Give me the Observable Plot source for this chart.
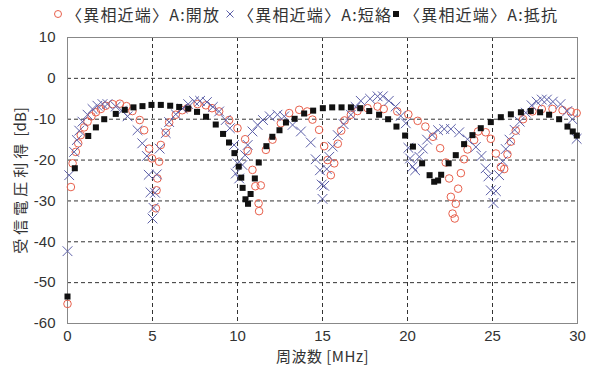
<!DOCTYPE html>
<html><head><meta charset="utf-8">
<script src="https://cdn.jsdelivr.net/npm/d3@7"></script>
<script src="https://cdn.jsdelivr.net/npm/@observablehq/plot@0.6"></script>
<style>
body{margin:0;background:#fff;font-family:"Noto Sans CJK JP",sans-serif;}
#legend{height:20px;position:relative;z-index:1;font-size:16px;color:#333;width:595px;}
.item{position:absolute;top:4px;display:flex;align-items:center;white-space:nowrap;line-height:20px;letter-spacing:1.2px;}
.item svg{margin-right:2px;}
#chart svg{background:transparent !important;}
</style></head><body>
<div id="legend"></div>
<div id="chart"></div>
<script>
// Series labels
const seriesNames = ["〈異相近端〉A:開放", "〈異相近端〉A:短絡", "〈異相近端〉A:抵抗"];
const xTicks = [0, 5, 10, 15, 20, 25, 30];
const yTicks = [10, 0, -10, -20, -30, -40, -50, -60];
const xLabel = "周波数 [MHz]";
const yLabelMain = "受信電圧利得";
const yLabelUnit = " [dB]";

// [frequency MHz, gain dB]
const openPts = [[0,-55.2],[0.2,-26.6],[0.3,-20.8],[0.49,-18.0],[0.63,-15.9],[0.78,-13.9],[0.98,-12.0],[1.18,-10.6],[1.41,-9.3],[1.67,-8.3],
[1.96,-7.5],[2.25,-6.7],[2.65,-6.3],[3.08,-6.2],[3.47,-6.8],[3.82,-8.0],[4.25,-10.2],[4.51,-12.7],[4.8,-17.2],[4.97,-19.6],
[5.2,-31.8],[5.24,-27.4],[5.29,-24.5],[5.39,-20.4],[5.49,-16.3],[5.78,-13.3],[5.98,-10.8],[6.37,-8.9],[6.75,-7.8],[7.06,-7.3],
[7.65,-6.3],[8.14,-6.6],[8.5,-7.3],[8.92,-8.1],[9.51,-10.2],[10.0,-12.2],[10.45,-14.9],[10.6,-17.8],[10.88,-22.4],[11.05,-26.4],
[11.24,-30.6],[11.27,-32.5],[11.37,-26.2],[11.67,-17.5],[12.06,-15.0],[12.55,-11.0],[13.04,-8.5],[13.63,-7.7],[14.1,-8.1],[14.41,-10.1],
[14.8,-12.6],[15.1,-16.6],[15.3,-20.0],[15.49,-23.7],[15.69,-20.8],[15.9,-16.0],[16.1,-12.8],[16.3,-10.3],[16.67,-8.9],[17.06,-8.0],
[17.65,-7.3],[18.24,-6.9],[18.6,-7.5],[19.4,-8.1],[20.05,-8.8],[20.6,-10.4],[21.05,-11.8],[21.5,-14.3],[21.92,-17.1],[22.25,-20.6],
[22.45,-24.5],[22.55,-29.0],[22.65,-33.1],[22.78,-34.3],[22.84,-30.7],[22.98,-27.0],[23.14,-23.2],[23.33,-19.8],[23.53,-17.4],[23.92,-15.1],
[24.15,-13.0],[24.6,-13.2],[24.9,-14.8],[25.2,-18.4],[25.49,-21.7],[25.69,-22.2],[25.88,-18.6],[26.08,-15.5],[26.37,-12.8],[26.8,-10.0],
[27.35,-8.1],[27.9,-7.5],[28.53,-7.5],[29.12,-7.8],[29.6,-8.1],[29.95,-8.5]];

const shortPts = [[0,-42.3],[0.1,-23.7],[0.39,-18.0],[0.55,-15.1],[0.69,-12.8],[0.88,-10.6],[1.18,-8.9],[1.47,-7.5],[1.76,-6.7],[2.06,-6.3],
[2.35,-6.3],[2.84,-6.9],[3.2,-7.9],[3.53,-9.3],[4.12,-12.7],[4.4,-15.9],[4.67,-19.0],[4.78,-23.6],[4.88,-27.9],[5.0,-34.3],
[5.06,-31.7],[5.15,-28.0],[5.25,-23.5],[5.42,-17.2],[5.78,-13.4],[5.98,-10.7],[6.37,-8.8],[6.76,-7.4],[7.1,-6.3],[7.45,-5.6],
[7.8,-5.5],[8.2,-5.8],[8.55,-7.0],[8.92,-8.1],[9.31,-10.2],[9.55,-12.2],[9.8,-16.3],[9.9,-23.3],[10.0,-20.8],[10.1,-24.5],
[10.29,-21.2],[10.45,-18.8],[10.6,-16.3],[10.88,-13.0],[11.18,-11.4],[11.5,-10.2],[11.9,-9.3],[12.35,-8.9],[12.75,-9.3],[13.24,-11.4],
[13.73,-13.0],[14.31,-15.7],[14.6,-19.8],[14.85,-22.5],[14.95,-26.0],[15.0,-29.5],[15.1,-26.3],[15.25,-22.2],[15.4,-19.2],[15.6,-16.7],
[15.9,-13.9],[16.24,-11.2],[16.67,-8.9],[16.95,-7.0],[17.25,-5.5],[17.8,-5.0],[18.24,-4.4],[18.55,-4.4],[18.9,-5.5],[19.3,-6.9],
[19.6,-9.2],[19.9,-11.0],[20.05,-17.0],[20.15,-19.6],[20.3,-21.6],[20.45,-22.5],[20.7,-19.2],[20.9,-17.2],[21.15,-15.0],[21.45,-13.8],
[21.8,-12.7],[22.16,-12.4],[22.55,-12.4],[23.04,-13.2],[23.53,-14.9],[24.02,-16.8],[24.35,-19.0],[24.6,-22.0],[24.76,-24.0],[24.9,-27.4],
[25.06,-30.5],[25.2,-27.6],[25.39,-23.7],[25.6,-20.3],[25.78,-17.3],[26.0,-15.0],[26.3,-12.6],[26.6,-10.6],[26.96,-8.4],[27.3,-6.6],
[27.6,-5.7],[27.9,-5.2],[28.2,-5.2],[28.55,-5.7],[29.0,-6.3],[29.4,-8.0],[29.7,-10.0],[29.95,-14.8]];

const resistPts = [[0,-53.4],[0.43,-22.0],[1.22,-14.1],[1.67,-12.0],[2.16,-10.0],[2.84,-8.7],[3.37,-7.7],[3.88,-7.1],[4.41,-6.8],[4.94,-6.5],
[5.49,-6.5],[6.04,-6.7],[6.57,-7.0],[7.1,-7.4],[7.62,-8.2],[8.15,-9.4],[8.72,-11.3],[9.15,-13.6],[9.5,-15.7],[9.82,-18.3],
[10.07,-21.6],[10.22,-24.3],[10.3,-26.8],[10.47,-29.6],[10.62,-30.7],[10.77,-28.3],[11.02,-24.5],[11.25,-20.6],[11.7,-16.6],[12.05,-14.3],
[12.47,-12.7],[12.85,-10.8],[13.36,-9.9],[13.92,-8.6],[14.45,-7.9],[15.02,-7.3],[15.57,-7.1],[16.12,-7.1],[16.67,-7.1],[17.22,-7.3],
[17.75,-8.0],[18.33,-8.9],[18.86,-10.0],[19.35,-11.8],[19.86,-14.0],[20.32,-16.7],[20.86,-20.8],[21.3,-23.7],[21.57,-25.3],[21.8,-25.0],
[21.98,-23.6],[22.42,-20.8],[22.84,-18.8],[23.33,-16.1],[23.82,-13.9],[24.31,-12.2],[24.9,-10.7],[25.49,-9.5],[26.08,-8.8],[26.67,-8.3],
[27.25,-8.0],[27.8,-8.3],[28.33,-8.9],[28.92,-10.0],[29.41,-11.8],[29.72,-13.0],[29.96,-14.0]];

const colors = {open: "#e8604c", short: "#5c5fa8", resist: "#111"};

// Legend
const legend = document.getElementById("legend");
const icons = [
  `<svg width="12" height="12"><circle cx="6" cy="6" r="3.5" fill="none" stroke="${colors.open}" stroke-width="1"/></svg>`,
  `<svg width="12" height="12"><path d="M2.5,2.5L9.5,9.5M9.5,2.5L2.5,9.5" stroke="${colors.short}" stroke-width="1"/></svg>`,
  `<svg width="12" height="12"><rect x="3" y="3" width="6" height="6" fill="${colors.resist}"/></svg>`
];
const lefts = [52, 224, 390];
seriesNames.forEach((n, i) => {
  const d = document.createElement("div");
  d.className = "item";
  d.style.left = lefts[i] + "px";
  d.innerHTML = icons[i] + "<span>" + n + "</span>";
  legend.appendChild(d);
});

const grid = {stroke: "#333", strokeOpacity: 1, strokeWidth: 1, strokeDasharray: "4,3"};

const chart = Plot.plot({
  width: 595, height: 356,
  marginTop: 17, marginBottom: 53, marginLeft: 67, marginRight: 18,
  style: {fontFamily: "'Liberation Sans', Arial, sans-serif", fontSize: "15px", color: "#333", background: "transparent"},
  x: {domain: [0, 30]},
  y: {domain: [-60, 10]},
  marks: [
    Plot.gridX(xTicks.slice(1, -1), grid),
    Plot.gridY(yTicks.slice(1, -1), grid),
    Plot.frame({stroke: "#888"}),
    Plot.axisX(xTicks, {tickSize: 0, tickPadding: 7, tickFormat: d => String(d), label: xLabel, labelAnchor: "center", labelOffset: 38}),
    Plot.axisY(yTicks, {tickSize: 0, tickPadding: 12, tickFormat: d => String(d), label: yLabelMain + yLabelUnit, labelAnchor: "center", labelOffset: 52}),
    Plot.dot(openPts, {x: d => d[0], y: d => d[1], r: 3.8, stroke: colors.open, strokeWidth: 1, fill: "none"}),
    Plot.dot(shortPts, {x: d => d[0], y: d => d[1], r: 4.5, symbol: "times", stroke: colors.short, strokeWidth: 1}),
    Plot.dot(resistPts, {x: d => d[0], y: d => d[1], r: 3.4, symbol: "square", fill: colors.resist, stroke: "none"})
  ]
});
// strip label arrows, set CJK font on axis labels
const SVGNS = "http://www.w3.org/2000/svg";
chart.querySelectorAll("text").forEach(t => {
  if (/[↑→↓←]/.test(t.textContent)) {
    t.textContent = t.textContent.replace(/[↑→↓←]/g, "").trim();
  }
  if (t.textContent === xLabel) {
    t.style.fontFamily = "'Noto Sans CJK JP', sans-serif";
    t.style.letterSpacing = "0.5px";
  }
  if (t.textContent === yLabelMain + yLabelUnit) {
    t.style.fontFamily = "'Noto Sans CJK JP', sans-serif";
    t.textContent = "";
    const a = document.createElementNS(SVGNS, "tspan");
    a.textContent = yLabelMain;
    a.setAttribute("letter-spacing", "4");
    const b = document.createElementNS(SVGNS, "tspan");
    b.textContent = yLabelUnit;
    t.appendChild(a); t.appendChild(b);
  }
});
document.getElementById("chart").appendChild(chart);
</script>
</body></html>
